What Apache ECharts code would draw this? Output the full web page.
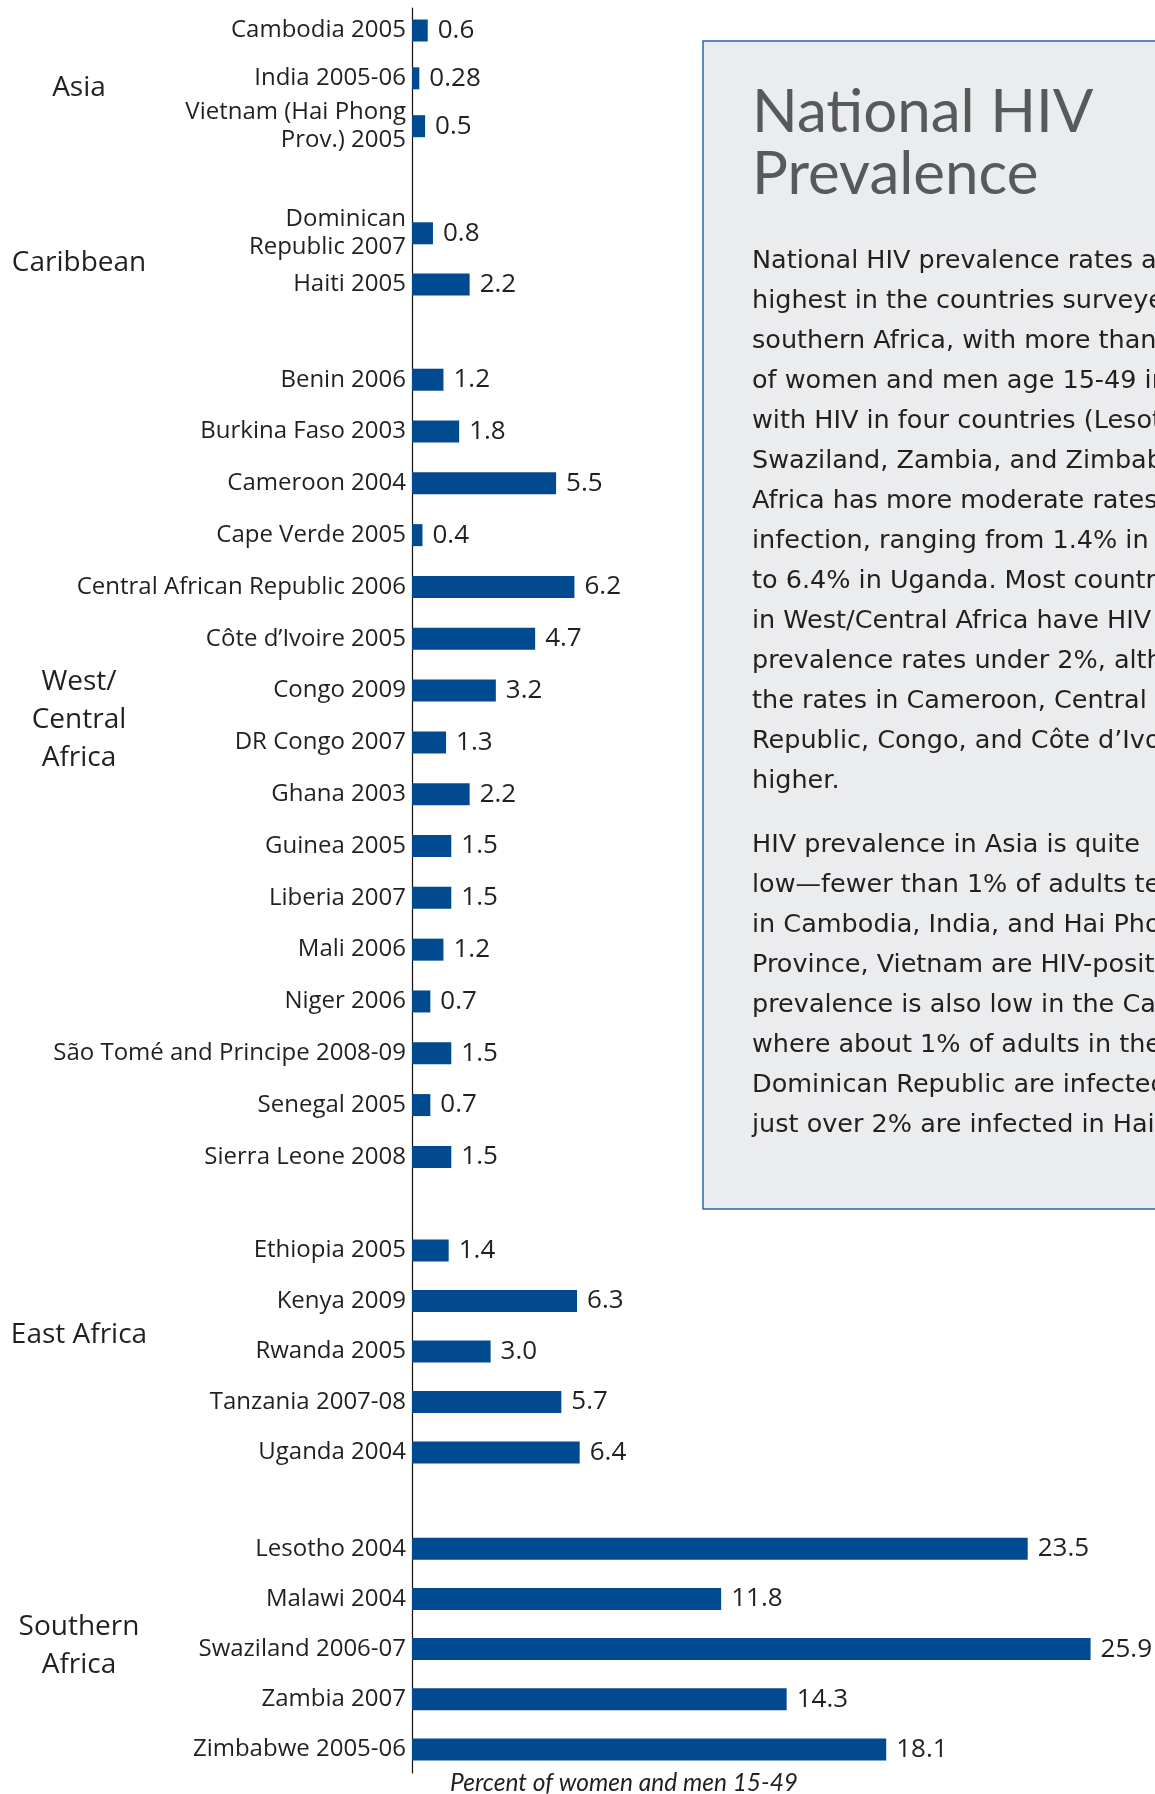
<!DOCTYPE html>
<html>
<head>
<meta charset="utf-8">
<title>National HIV Prevalence</title>
<style>
html, body { margin: 0; padding: 0; background: #fff; }
#chart { width: 1155px; height: 1794px; }
</style>
</head>
<body>
<div id="chart"></div>
<script src="https://cdn.jsdelivr.net/npm/echarts/dist/echarts.min.js"></script>
<script>
// data: percent of women and men 15-49 who are HIV positive
const regionNames = ['Asia', 'Caribbean', 'West/\nCentral\nAfrica', 'East Africa', 'Southern\nAfrica']

const asiaNames = ['Cambodia 2005', 'India 2005-06', 'Vietnam (Hai Phong\nProv.) 2005']
const asiaValues = [0.6, 0.28, 0.5]

const caribbeanNames = ['Dominican\nRepublic 2007', 'Haiti 2005']
const caribbeanValues = [0.8, 2.2]

const westNames = ['Benin 2006', 'Burkina Faso 2003', 'Cameroon 2004', 'Cape Verde 2005',
    'Central African Republic 2006', 'Côte d’Ivoire 2005', 'Congo 2009', 'DR Congo 2007',
    'Ghana 2003', 'Guinea 2005', 'Liberia 2007', 'Mali 2006', 'Niger 2006',
    'São Tomé and Principe 2008-09', 'Senegal 2005', 'Sierra Leone 2008']
const westValues = [1.2, 1.8, 5.5, 0.4, 6.2, 4.7, 3.2, 1.3, 2.2, 1.5, 1.5, 1.2, 0.7, 1.5, 0.7, 1.5]

const eastNames = ['Ethiopia 2005', 'Kenya 2009', 'Rwanda 2005', 'Tanzania 2007-08', 'Uganda 2004']
const eastValues = [1.4, 6.3, 3.0, 5.7, 6.4]

const southNames = ['Lesotho 2004', 'Malawi 2004', 'Swaziland 2006-07', 'Zambia 2007', 'Zimbabwe 2005-06']
const southValues = [23.5, 11.8, 25.9, 14.3, 18.1]

const axisCaption = 'Percent of women and men 15-49'

const panelTitle = ['National HIV', 'Prevalence']
const panelPara1 = [
    'National HIV prevalence rates are',
    'highest in the countries surveyed in',
    'southern Africa, with more than 10%',
    'of women and men age 15-49 infected',
    'with HIV in four countries (Lesotho,',
    'Swaziland, Zambia, and Zimbabwe). East',
    'Africa has more moderate rates of',
    'infection, ranging from 1.4% in Ethiopia',
    'to 6.4% in Uganda. Most countries',
    'in West/Central Africa have HIV',
    'prevalence rates under 2%, although',
    'the rates in Cameroon, Central African',
    'Republic, Congo, and Côte d’Ivoire are',
    'higher.'
]
const panelPara2 = [
    'HIV prevalence in Asia is quite',
    'low—fewer than 1% of adults tested',
    'in Cambodia, India, and Hai Phong',
    'Province, Vietnam are HIV-positive. HIV',
    'prevalence is also low in the Caribbean,',
    'where about 1% of adults in the',
    'Dominican Republic are infected and',
    'just over 2% are infected in Haiti.'
]

const barColor = '#024a90'
const textColor = '#231f20'
const font = '"Open Sans", sans-serif'
const titleFont = 'Lato, "Open Sans", sans-serif'
const bodyFont = '"DejaVu Sans", "Open Sans", sans-serif'

// region blocks: names, values, grid top/height, region label centre
const groups = [
    { names: asiaNames, values: asiaValues, top: 6.6, height: 143.5, labelY: 88 },
    { names: caribbeanNames, values: caribbeanValues, top: 207.7, height: 102.4, labelY: 263 },
    { names: westNames, values: westValues, top: 353.8, height: 829, labelY: 720 },
    { names: eastNames, values: eastValues, top: 1225.3, height: 252.5, labelY: 1335 },
    { names: southNames, values: southValues, top: 1523.6, height: 251, labelY: 1646 }
]

const chart = echarts.init(document.getElementById('chart'), null, { renderer: 'canvas' })

const grid = [], xAxis = [], yAxis = [], series = []
groups.forEach(function (g, i) {
    grid.push({ left: 412, width: 733.6, top: g.top, height: g.height })
    xAxis.push({ gridIndex: i, type: 'value', min: 0, max: 28, show: false })
    yAxis.push({
        gridIndex: i,
        type: 'category',
        inverse: true,
        data: g.names,
        axisLine: { show: false },
        axisTick: { show: false },
        splitLine: { show: false },
        axisLabel: { interval: 0, margin: 6, color: textColor, fontSize: 24, lineHeight: 28,
            fontFamily: font, padding: [5, 0, 0, 0] }
    })
    series.push({
        type: 'bar',
        xAxisIndex: i,
        yAxisIndex: i,
        data: g.values,
        barWidth: 22,
        itemStyle: { color: barColor },
        label: {
            show: true,
            position: 'right',
            distance: 10,
            color: textColor,
            fontSize: 26,
            fontFamily: font,
            padding: [5, 0, 0, 0],
            formatter: function (p) {
                const s = String(p.value)
                return s.indexOf('.') >= 0 ? s : p.value.toFixed(1)
            }
        }
    })
})

// one continuous vertical axis line for all regions
grid.push({ left: 412, width: 733.6, top: 8, bottom: 21 })
xAxis.push({ gridIndex: 5, type: 'value', min: 0, max: 28, show: false })
yAxis.push({
    gridIndex: 5,
    type: 'value',
    axisLine: { show: true, lineStyle: { color: '#111', width: 1.2 } },
    axisTick: { show: false },
    axisLabel: { show: false },
    splitLine: { show: false }
})

const graphic = []
// text panel on the right
graphic.push({
    type: 'rect', z: -1,
    shape: { x: 703, y: 41, width: 520, height: 1168 },
    style: { fill: '#ebeced', stroke: '#2e63ad', lineWidth: 1.5 }
})
panelTitle.forEach(function (t, i) {
    graphic.push({
        type: 'text',
        style: { text: t, x: 752, y: 113 + i * 62, fill: '#58595b', font: '60px ' + titleFont,
            textAlign: 'left', textVerticalAlign: 'middle', align: 'left', verticalAlign: 'middle' }
    })
})
panelPara1.concat(panelPara2).forEach(function (t, i) {
    const y = i < panelPara1.length ? 261 + i * 40 : 845 + (i - panelPara1.length) * 40
    graphic.push({
        type: 'text',
        style: { text: t, x: 752, y: y, fill: textColor, font: '25.5px ' + bodyFont,
            textAlign: 'left', textVerticalAlign: 'middle', align: 'left', verticalAlign: 'middle' }
    })
})
// region labels
groups.forEach(function (g, i) {
    graphic.push({
        type: 'text',
        style: { text: regionNames[i], x: 79, y: g.labelY, fill: textColor, font: '28px ' + font,
            lineHeight: 38, textAlign: 'center', textVerticalAlign: 'middle', align: 'center', verticalAlign: 'middle' }
    })
})
// axis caption
graphic.push({
    type: 'text',
    style: { text: axisCaption, x: 450, y: 1783, fill: textColor, font: 'italic 24.5px ' + titleFont,
        textAlign: 'left', textVerticalAlign: 'middle', align: 'left', verticalAlign: 'middle' }
})

chart.setOption({
    animation: false,
    backgroundColor: '#fff',
    grid: grid,
    xAxis: xAxis,
    yAxis: yAxis,
    series: series,
    graphic: graphic
})
</script>
</body>
</html>
